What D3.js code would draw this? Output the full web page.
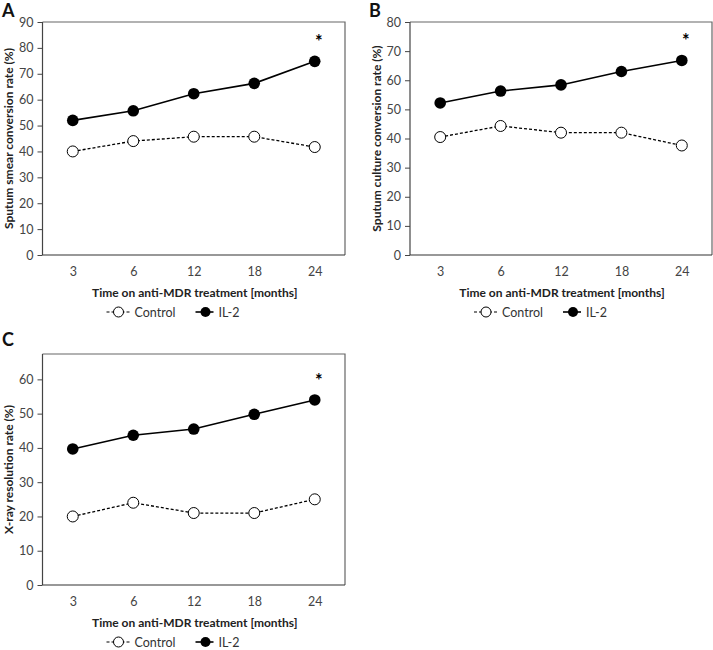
<!DOCTYPE html>
<html>
<head>
<meta charset="utf-8">
<script src="https://cdn.jsdelivr.net/npm/d3@7"></script>
<style>
  body { margin: 0; background: #fff; }
  svg { display: block; font-family: Lato, "Open Sans", sans-serif; }
</style>
</head>
<body>
<script>
const months = ["3", "6", "12", "18", "24"];

const smearControl = [40, 44, 45.7, 45.7, 41.7];
const smearIL2 = [52, 55.7, 62.3, 66.3, 74.8];
const cultureControl = [40.5, 44.3, 42, 42, 37.6];
const cultureIL2 = [52.2, 56.3, 58.4, 63, 66.8];
const xrayControl = [20, 24, 21, 21, 25];
const xrayIL2 = [39.7, 43.7, 45.5, 49.8, 54];

const seriesNames = ["Control", "IL-2"];
const xTitle = "Time on anti-MDR treatment [months]";

const width = 713, height = 650;
const svg = d3.select("body").append("svg")
  .attr("width", width)
  .attr("height", height);

function drawPanel(p) {
  const g = svg.append("g");
  const x = d3.scalePoint().domain(months).range([p.left, p.right]).padding(0.5);
  const y = d3.scaleLinear().domain([0, p.yMax]).range([p.bottom, p.top]);

  // frame (top + right in grey)
  g.append("path")
    .attr("d", `M${p.left},${p.top}H${p.right}V${p.bottom}`)
    .attr("fill", "none")
    .attr("stroke", "#666")
    .attr("stroke-width", 1.2);

  const yAxis = g.append("g")
    .attr("transform", `translate(${p.left},0)`)
    .call(d3.axisLeft(y).tickValues(d3.range(0, p.yTop + 1, 10)).tickSize(5).tickPadding(4));
  yAxis.select(".domain").attr("d", `M0,${p.top}V${p.bottom}`).attr("stroke", "#444").attr("stroke-width", 1.2);
  yAxis.selectAll(".tick line").attr("stroke", "#444");
  yAxis.selectAll("text").attr("font-size", 12.5).attr("fill", "#444").attr("font-family", "Lato");

  const xAxis = g.append("g")
    .attr("transform", `translate(0,${p.bottom})`)
    .call(d3.axisBottom(x).tickSize(0).tickPadding(12));
  xAxis.select(".domain").attr("d", `M${p.left},0H${p.right}`).attr("stroke", "#333").attr("stroke-width", 1.2);
  xAxis.selectAll("text").attr("font-size", 12.5).attr("fill", "#444").attr("font-family", "Lato");

  g.append("text")
    .attr("x", (p.left + p.right) / 2 + 1)
    .attr("y", p.bottom + 42)
    .attr("text-anchor", "middle")
    .attr("font-size", 12)
    .attr("font-weight", 700)
    .attr("fill", "#222")
    .text(xTitle);

  g.append("text")
    .attr("transform", `translate(${p.left - 34},${(p.top + p.bottom) / 2}) rotate(-90)`)
    .attr("text-anchor", "middle")
    .attr("dominant-baseline", "central")
    .attr("font-size", 12)
    .attr("font-weight", 700)
    .attr("fill", "#222")
    .text(p.yTitle);

  g.append("text")
    .attr("x", p.letterX)
    .attr("y", p.letterY)
    .attr("font-size", 18)
    .attr("font-weight", 700)
    .attr("fill", "#111")
    .text(p.letter);

  const line = d3.line().x((d, i) => x(months[i])).y(d => y(d));

  g.append("path")
    .datum(p.control)
    .attr("d", line)
    .attr("fill", "none")
    .attr("stroke", "#000")
    .attr("stroke-width", 1.3)
    .attr("stroke-dasharray", "3,2");

  g.append("path")
    .datum(p.il2)
    .attr("d", line)
    .attr("fill", "none")
    .attr("stroke", "#000")
    .attr("stroke-width", 1.6);

  g.selectAll(".ctrl")
    .data(p.control)
    .join("circle")
    .attr("cx", (d, i) => x(months[i]))
    .attr("cy", d => y(d))
    .attr("r", 5.5)
    .attr("fill", "#fff")
    .attr("stroke", "#000")
    .attr("stroke-width", 1);

  g.selectAll(".il2")
    .data(p.il2)
    .join("circle")
    .attr("cx", (d, i) => x(months[i]))
    .attr("cy", d => y(d))
    .attr("r", 5.8)
    .attr("fill", "#000");

  // significance marker
  g.append("text")
    .attr("x", x(months[4]) + 4)
    .attr("y", y(p.il2[4]) - 13)
    .attr("text-anchor", "middle")
    .attr("font-size", 18)
    .attr("font-weight", 700)
    .text("*");

  // legend
  const ly = p.bottom + 57;
  const lg = g.append("g").attr("transform", `translate(${p.left},${ly})`);
  lg.append("line").attr("x1", 64).attr("x2", 88).attr("y1", 0).attr("y2", 0)
    .attr("stroke", "#000").attr("stroke-width", 1.2).attr("stroke-dasharray", "3,2");
  lg.append("circle").attr("cx", 76).attr("cy", 0).attr("r", 5)
    .attr("fill", "#fff").attr("stroke", "#000");
  lg.append("text").attr("x", 92).attr("y", 0).attr("dominant-baseline", "central")
    .attr("font-size", 12.5).attr("fill", "#333").text(seriesNames[0]);
  lg.append("line").attr("x1", 153).attr("x2", 171).attr("y1", 0).attr("y2", 0)
    .attr("stroke", "#000").attr("stroke-width", 1.6);
  lg.append("circle").attr("cx", 163).attr("cy", 0).attr("r", 5).attr("fill", "#000");
  lg.append("text").attr("x", 176).attr("y", 0).attr("dominant-baseline", "central")
    .attr("font-size", 12.5).attr("fill", "#333").text(seriesNames[1]);
}

drawPanel({
  letter: "A", letterX: 2, letterY: 17,
  left: 42.5, right: 345, top: 22, bottom: 255,
  yMax: 90, yTop: 90,
  yTitle: "Sputum smear conversion rate (%)",
  control: smearControl, il2: smearIL2
});

drawPanel({
  letter: "B", letterX: 369, letterY: 17,
  left: 410, right: 712, top: 22, bottom: 255,
  yMax: 80, yTop: 80,
  yTitle: "Sputum culture conversion rate (%)",
  control: cultureControl, il2: cultureIL2
});

drawPanel({
  letter: "C", letterX: 2, letterY: 346,
  left: 42.5, right: 345, top: 354, bottom: 585,
  yMax: 67.4, yTop: 60,
  yTitle: "X-ray resolution rate (%)",
  control: xrayControl, il2: xrayIL2
});
</script>
</body>
</html>
